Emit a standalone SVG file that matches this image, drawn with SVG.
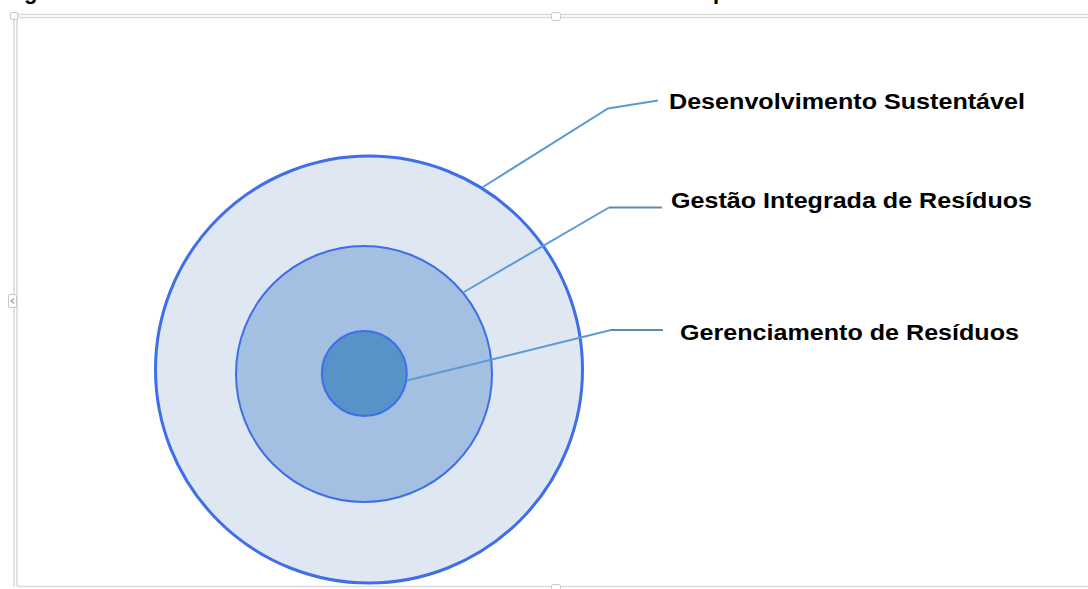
<svg xmlns="http://www.w3.org/2000/svg" width="1088" height="589" viewBox="0 0 1088 589">
  <style>
    .frame { fill: none; stroke: #d9d9d9; stroke-width: 1.5; }
    .handle { fill: #ffffff; stroke: #c8c8c8; stroke-width: 1; }
    .ring { stroke: #3f6ee8; }
    .lbl { font-family: "Liberation Sans", Arial, sans-serif; font-weight: bold; font-size: 22px; fill: #000000; }
    .diag { fill: none; stroke: #5b9bd5; stroke-width: 2; }
    .hor { fill: none; stroke: #5a8fa8; stroke-width: 2; }
  </style>
  <rect width="1088" height="589" fill="#ffffff"/>
  <!-- cut-off caption fragments -->
  <text x="24" y="-1" class="lbl">g</text>
  <text x="713" y="-1" class="lbl">p</text>
  <!-- selection frame -->
  <g id="frame">
    <path class="frame" d="M14 586.5 V14.5 H1088"/>
    <path class="frame" d="M17 586 V17.5 H1088"/>
    <path class="frame" d="M17 586.5 H1088"/>
    <rect class="handle" x="10.5" y="12.5" width="7" height="7" rx="1.5"/>
    <rect class="handle" x="551.5" y="12.5" width="9" height="8" rx="2"/>
    <rect class="handle" x="551.5" y="584.5" width="9" height="8" rx="2"/>
    <rect class="handle" x="8.5" y="294.5" width="8" height="13" rx="1.5"/>
    <path d="M14 298.5 L11 301 L14 303.5" fill="none" stroke="#a0a0a0" stroke-width="1.2"/>
  </g>
  <g id="outer">
    <circle cx="369" cy="369.5" r="213.5" fill="#dfe7f3" class="ring" stroke-width="3"/>
  </g>
  <g id="middle">
    <circle cx="364" cy="374" r="128" fill="#a3bfe1" class="ring" stroke-width="2"/>
  </g>
  <g id="inner">
    <circle cx="364.3" cy="373.5" r="42.5" fill="#5792c9" class="ring" stroke-width="2"/>
  </g>
  <g id="connectors">
    <path class="diag" d="M483 187 L608 108.5 L658 100.5"/>
    <path class="diag" d="M464 292 L609 207.5"/>
    <path class="hor" d="M609 207.5 H662"/>
    <path class="diag" d="M407 380.5 L611 330"/>
    <path class="hor" d="M611 330 H663"/>
  </g>
  <g id="label-ds">
    <text x="669" y="108.5" class="lbl" textLength="356" lengthAdjust="spacingAndGlyphs">Desenvolvimento Sustentável</text>
  </g>
  <g id="label-gir">
    <text x="671" y="208" class="lbl" textLength="361" lengthAdjust="spacingAndGlyphs">Gestão Integrada de Resíduos</text>
  </g>
  <g id="label-gr">
    <text x="680" y="340" class="lbl" textLength="339" lengthAdjust="spacingAndGlyphs">Gerenciamento de Resíduos</text>
  </g>
</svg>
